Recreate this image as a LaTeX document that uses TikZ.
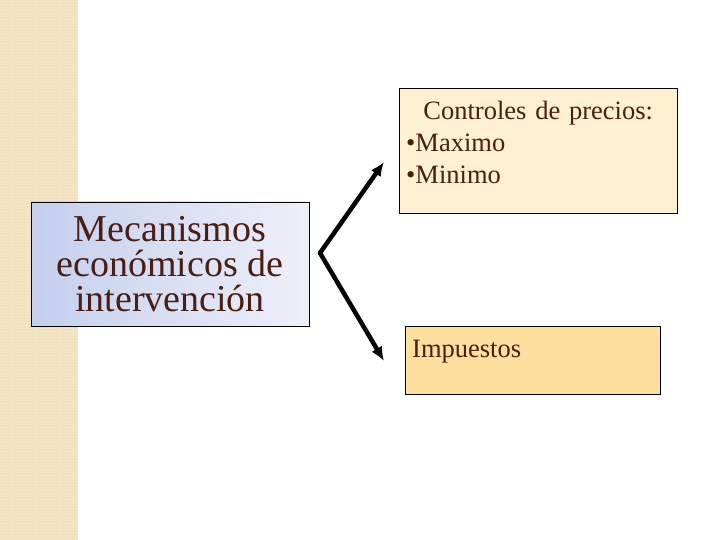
\documentclass[tikz,border=0pt]{standalone}
\usepackage{fontspec}
\setmainfont{Liberation Serif}
\usetikzlibrary{arrows.meta,positioning,calc,patterns}
\definecolor{brownink}{HTML}{4A1E12}
\definecolor{stripe}{HTML}{F1E1BD}
\definecolor{mainA}{HTML}{C4CFEE}
\definecolor{mainB}{HTML}{EEF0F9}
\definecolor{ctrlfill}{HTML}{FEF0D1}
\definecolor{impfill}{HTML}{FEDF9E}
\tikzset{
  boxnode/.style = { draw=black, thin, inner sep=0pt, text=brownink },
  mainbox/.style = { boxnode, left color=mainA, right color=mainB,
    minimum width=278pt, minimum height=124pt, align=center,
    font=\fontsize{38}{35}\selectfont },
  ctrlbox/.style = { boxnode, fill=ctrlfill, text width=264pt, inner xsep=7pt,
    align=left, font=\fontsize{26.5}{32}\selectfont },
  impbox/.style  = { boxnode, fill=impfill, text width=241pt, inner xsep=7pt,
    align=left, text height=31pt, text depth=37pt,
    font=\fontsize{26.5}{32}\selectfont },
  fork/.style    = { line width=4.5pt, line cap=round, -{Latex[length=14pt,width=12pt]} }
}
\begin{document}
\begin{tikzpicture}[x=1pt,y=1pt]
    \useasboundingbox (0,0) rectangle (720,540);
    % left band
    \fill[stripe] (0,0) rectangle (78,540);
    \fill[pattern=crosshatch dots, pattern color=white!55!stripe] (0,0) rectangle (78,540);
    \node[mainbox] (main) at (170,276) {Mecanismos\\econ\'omicos de\\intervenci\'on};
    \node[ctrlbox, anchor=north west] (ctrl) at (399,452)
      {\makebox[264pt]{\rule{0pt}{31pt}Controles de precios:}\\
       •Maximo\\
       •Minimo\rule[-30pt]{0pt}{30pt}};
    \node[impbox, anchor=north west] (imp) at (405,214) {Impuestos};
    \coordinate (split) at (320,287);
    \coordinate (tipc) at (384,378);
    \coordinate (tipi) at (384,179);
    \draw[fork] (split) -- (tipc);
    \draw[fork] (split) -- (tipi);
\end{tikzpicture}
\end{document}
